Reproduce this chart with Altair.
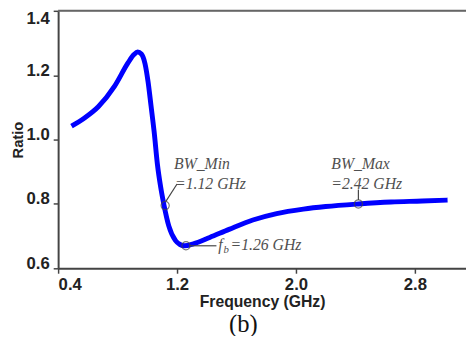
import altair as alt
import pandas as pd

# Curve
freq = [0.49, 0.58, 0.67, 0.78, 0.87, 0.91, 0.935, 0.96, 0.985, 1.005, 1.025, 1.046, 1.068,
        1.09, 1.112, 1.145, 1.19, 1.22, 1.25, 1.31, 1.42, 1.55, 1.71, 1.87, 2.05, 2.20,
        2.42, 2.64, 2.85, 3.02]
ratio = [1.042, 1.068, 1.102, 1.166, 1.238, 1.264, 1.272, 1.266, 1.235, 1.180, 1.105, 1.024,
         0.923, 0.852, 0.797, 0.731, 0.686, 0.674, 0.670, 0.676, 0.696, 0.721, 0.750, 0.770,
         0.784, 0.792, 0.800, 0.806, 0.809, 0.812]

# Marked points
mark_f = [1.12, 1.26, 2.42]
mark_r = [0.795, 0.670, 0.800]

# Annotation texts (data positions)
ann_text = ["BW_Min", "=1.12 GHz", "BW_Max", "=2.42 GHz", "f", "=1.26 GHz"]
ann_x = [1.18, 1.187, 2.238, 2.238, 1.478, 1.560]
ann_y = [0.908, 0.847, 0.908, 0.847, 0.658, 0.658]
sub_text = ["b"]
sub_x = [1.513]
sub_y = [0.649]

# Leader lines
lead_x = [1.125, 2.42, 1.281]
lead_y = [0.808, 0.812, 0.670]
lead_x2 = [1.200, 2.42, 1.465]
lead_y2 = [0.862, 0.845, 0.670]

XMIN, XMAX = 0.4, 3.144
YMIN, YMAX = 0.6, 1.4
W, H = 415, 262

curve = pd.DataFrame({"f": freq, "r": ratio})
pts = pd.DataFrame({"f": mark_f, "r": mark_r})
ann = pd.DataFrame({"t": ann_text, "x": ann_x, "y": ann_y})
sub = pd.DataFrame({"t": sub_text, "x": sub_x, "y": sub_y})
lead = pd.DataFrame({"x": lead_x, "y": lead_y, "x2": lead_x2, "y2": lead_y2})

xs = alt.Scale(domain=[XMIN, XMAX], nice=False, zero=False)
ys = alt.Scale(domain=[YMIN, YMAX], nice=False, zero=False)

axis_common = dict(
    labelFont="Liberation Sans", labelFontWeight="bold", labelFontSize=17, labelColor="#222",
    titleFont="Liberation Sans", titleFontWeight="bold", titleColor="#222",
    domainColor="#444", domainWidth=2, tickColor="#444", tickWidth=1.5, tickSize=5,
    grid=False,
)

xaxis = alt.Axis(values=[0.4, 1.2, 2.0, 2.8], format=".1f", title="Frequency (GHz)",
                 titleFontSize=16, labelPadding=4, titlePadding=1, **axis_common)
yaxis = alt.Axis(values=[0.6, 0.8, 1.0, 1.2, 1.4], format=".1f", title="Ratio",
                 titleFontSize=15, labelPadding=4, titlePadding=1,
                 labelBaseline=alt.ExprRef(expr="datum.value >= 1.39 ? 'top' : 'alphabetic'"),
                 **axis_common)

line = alt.Chart(curve).mark_line(color="#0000ff", strokeWidth=5, interpolate="monotone").encode(
    x=alt.X("f:Q", scale=xs, axis=xaxis),
    y=alt.Y("r:Q", scale=ys, axis=yaxis),
)

top_rule = alt.Chart(pd.DataFrame({"y": [YMAX]})).mark_rule(color="#666", strokeWidth=2).encode(
    y=alt.Y("y:Q", scale=ys), x=alt.value(0), x2=alt.value(W)
)

circles = alt.Chart(pts).mark_point(shape="circle", size=70, filled=False, color="#444",
                                    strokeWidth=1.2).encode(
    x=alt.X("f:Q", scale=xs), y=alt.Y("r:Q", scale=ys)
)

leaders = alt.Chart(lead).mark_rule(color="#444", strokeWidth=1.2).encode(
    x=alt.X("x:Q", scale=xs), y=alt.Y("y:Q", scale=ys), x2="x2:Q", y2="y2:Q"
)

texts = alt.Chart(ann).mark_text(font="Liberation Serif", fontStyle="italic", fontSize=16,
                                 color="#505050", align="left", baseline="alphabetic").encode(
    x=alt.X("x:Q", scale=xs), y=alt.Y("y:Q", scale=ys), text="t:N"
)

subs = alt.Chart(sub).mark_text(font="Liberation Serif", fontStyle="italic", fontSize=11,
                                color="#505050", align="left", baseline="alphabetic").encode(
    x=alt.X("x:Q", scale=xs), y=alt.Y("y:Q", scale=ys), text="t:N"
)

chart = alt.layer(top_rule, line, leaders, circles, texts, subs).properties(
    width=W, height=H,
    autosize=alt.AutoSizeParams(type="none"),
    padding={"left": 51, "top": 0, "right": 0, "bottom": 66},
    title=alt.TitleParams("(b)", orient="bottom", font="Liberation Serif", fontSize=25,
                          fontWeight="normal", color="#111", dx=-19, offset=3),
).configure_view(stroke=None).configure(background="white")

chart.save("out.html", embed_options={"renderer": "svg", "actions": False})
